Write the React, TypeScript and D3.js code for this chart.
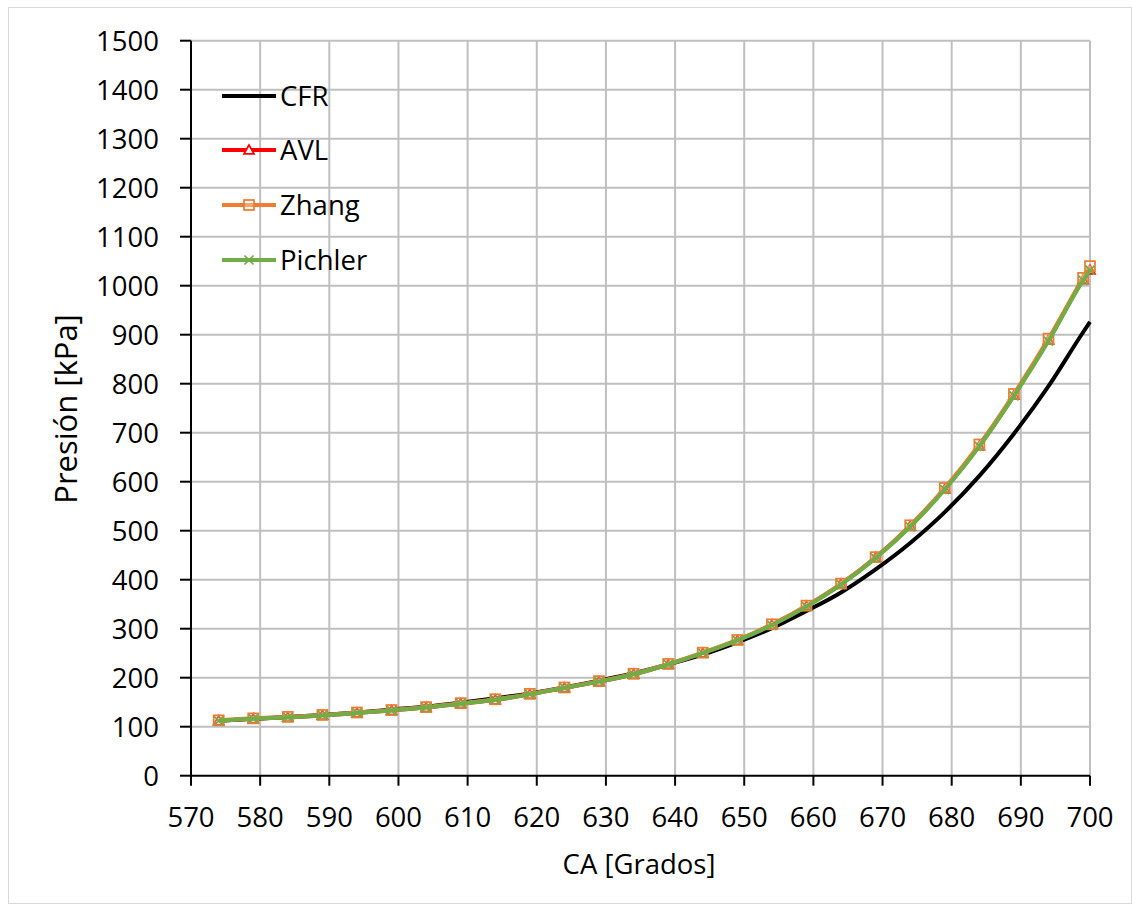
import React from "react";
import * as d3 from "d3";

const angles = [574, 579, 584, 589, 594, 599, 604, 609, 614, 619, 624, 629, 634, 639, 644, 649, 654, 659, 664, 669, 674, 679, 684, 689, 694, 699, 700];
const cfr = [112, 116, 120, 124, 129, 135, 141, 149, 158, 168, 180, 194, 209, 227, 247, 272, 301, 336, 374, 421, 475, 538, 612, 698, 795, 905, 926];
const avl = [112, 116, 119, 123, 128, 133, 139, 147, 155, 166, 179, 192, 207, 227, 250, 276, 308, 346, 391, 445, 509, 585, 673, 776, 889, 1012, 1032];
const zhang = [113, 117, 120, 124, 129, 134, 140, 148, 156, 167, 180, 193, 208, 228, 251, 277, 309, 347, 392, 446, 511, 587, 676, 779, 892, 1016, 1040];
const pichler = [112, 116, 119, 123, 128, 133, 139, 147, 155, 166, 179, 192, 207, 227, 250, 276, 307, 345, 390, 444, 508, 584, 672, 775, 887, 1011, 1032];

const xTicks = [570, 580, 590, 600, 610, 620, 630, 640, 650, 660, 670, 680, 690, 700];
const yTicks = [0, 100, 200, 300, 400, 500, 600, 700, 800, 900, 1000, 1100, 1200, 1300, 1400, 1500];
const seriesNames = ["CFR", "AVL", "Zhang", "Pichler"];
const seriesColors = ["#000000", "#ff0000", "#ed7d31", "#70ad47"];
const seriesMarkers = ["none", "triangle", "square", "x"];
const seriesValues = [cfr, avl, zhang, pichler];

const FONT = "'Open Sans', 'Noto Sans', sans-serif";

function Marker({ type, x, y, color }: { type: string; x: number; y: number; color: string }) {
  if (type === "triangle") {
    const s = 5;
    return (
      <path
        d={`M${x},${y - s} L${x + s},${y + s * 0.75} L${x - s},${y + s * 0.75} Z`}
        fill="#fff"
        stroke={color}
        strokeWidth={1.75}
      />
    );
  }
  if (type === "square") {
    const s = 5;
    return <rect x={x - s} y={y - s} width={2 * s} height={2 * s} fill="#fff" fillOpacity={0.3} stroke={color} strokeWidth={1.75} />;
  }
  if (type === "x") {
    const s = 4.5;
    return (
      <path d={`M${x - s},${y - s} L${x + s},${y + s} M${x - s},${y + s} L${x + s},${y - s}`} stroke={color} strokeWidth={1.75} fill="none" />
    );
  }
  return null;
}

export default function App() {
  const W = 1140;
  const H = 912;
  const left = 191;
  const right = 1090;
  const top = 40.7;
  const bottom = 775.7;

  const x = d3.scaleLinear().domain([570, 700]).range([left, right]);
  const y = d3.scaleLinear().domain([0, 1500]).range([bottom, top]);

  const line = d3
    .line<[number, number]>()
    .x((d) => x(d[0]))
    .y((d) => y(d[1]))
    .curve(d3.curveMonotoneX);

  const legendX1 = 222;
  const legendX2 = 276;
  const legendY = [96, 150, 205, 260];

  return (
    <svg width={W} height={H} style={{ position: "absolute", left: 0, top: 0, display: "block" }} fontFamily={FONT}>
      <rect x={0} y={0} width={W} height={H} fill="#fff" />
      <rect x={8.5} y={7.5} width={1123} height={896} fill="#fff" stroke="#d9d9d9" strokeWidth={1} />

      {/* gridlines */}
      {xTicks
        .filter((t) => t !== 570)
        .map((t) => (
          <line key={"gx" + t} x1={x(t)} x2={x(t)} y1={top} y2={bottom} stroke="#bfbfbf" strokeWidth={2} />
        ))}
      {yTicks
        .filter((t) => t !== 0)
        .map((t) => (
          <line key={"gy" + t} x1={left} x2={right} y1={y(t)} y2={y(t)} stroke="#bfbfbf" strokeWidth={2} />
        ))}

      {/* axes */}
      <line x1={left} x2={left} y1={top} y2={bottom} stroke="#000" strokeWidth={2} />
      <line x1={left} x2={right} y1={bottom} y2={bottom} stroke="#000" strokeWidth={2} />
      {yTicks.map((t) => (
        <g key={"yt" + t}>
          <line x1={left - 11} x2={left} y1={y(t)} y2={y(t)} stroke="#000" strokeWidth={2} />
          <text x={159} y={y(t)} dy="0.36em" textAnchor="end" fontSize={27.5} fill="#000">
            {t}
          </text>
        </g>
      ))}
      {xTicks.map((t) => (
        <g key={"xt" + t}>
          <line x1={x(t)} x2={x(t)} y1={bottom} y2={bottom + 10} stroke="#000" strokeWidth={2} />
          <text x={x(t)} y={827} textAnchor="middle" fontSize={27.5} fill="#000">
            {t}
          </text>
        </g>
      ))}

      {/* axis titles */}
      <text x={639} y={874} textAnchor="middle" fontSize={27.5} fill="#000">
        CA [Grados]
      </text>
      <text transform={`translate(77,409) rotate(-90)`} textAnchor="middle" fontSize={31} fill="#000">
        Presión [kPa]
      </text>

      {/* series */}
      {seriesValues.map((vals, i) => {
        const pts: [number, number][] = angles.map((a, j) => [a, vals[j]]);
        return (
          <g key={"s" + i}>
            <path d={line(pts) || ""} fill="none" stroke={seriesColors[i]} strokeWidth={4} strokeLinejoin="round" />
            {seriesMarkers[i] !== "none" &&
              pts.map((p, j) => <Marker key={j} type={seriesMarkers[i]} x={x(p[0])} y={y(p[1])} color={seriesColors[i]} />)}
          </g>
        );
      })}

      {/* legend */}
      {seriesNames.map((n, i) => (
        <g key={"lg" + n}>
          <line x1={legendX1} x2={legendX2} y1={legendY[i]} y2={legendY[i]} stroke={seriesColors[i]} strokeWidth={4} />
          <Marker type={seriesMarkers[i]} x={(legendX1 + legendX2) / 2} y={legendY[i]} color={seriesColors[i]} />
          <text x={280} y={legendY[i]} dy="0.36em" fontSize={27.5} fill="#000">
            {n}
          </text>
        </g>
      ))}
    </svg>
  );
}
